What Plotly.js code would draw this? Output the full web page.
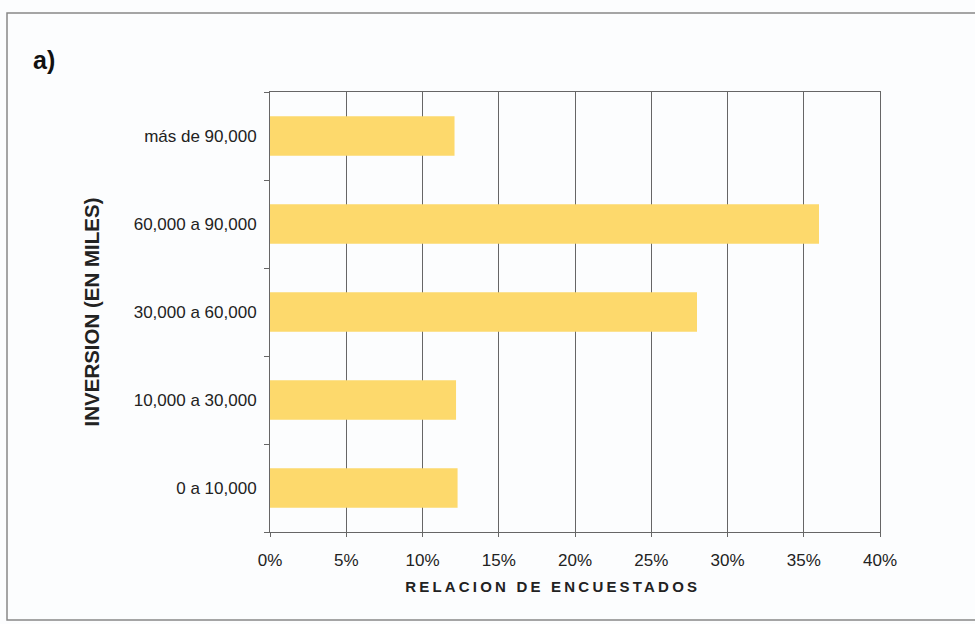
<!DOCTYPE html>
<html>
<head>
<meta charset="utf-8">
<script src="https://cdn.plot.ly/plotly-3.0.1.min.js"></script>
<style>
html,body{margin:0;padding:0;background:#fcfdfe;}
#chart{width:975px;height:624px;}
</style>
</head>
<body>
<div id="chart"></div>
<script>
// Data
const categories = ["0 a 10,000", "10,000 a 30,000", "30,000 a 60,000", "60,000 a 90,000", "más de 90,000"];
const shares = [0.123, 0.122, 0.280, 0.360, 0.121];
const xTickValues = [0, 0.05, 0.10, 0.15, 0.20, 0.25, 0.30, 0.35, 0.40];
const xTickLabels = ["0%", "5%", "10%", "15%", "20%", "25%", "30%", "35%", "40%"];
const panelLabel = "a)";
const xTitle = "RELACION DE ENCUESTADOS";
const yTitle = "INVERSION (EN MILES)";

const font = "Liberation Sans, Arial, sans-serif";

const trace = {
  type: "bar",
  orientation: "h",
  x: shares,
  y: categories,
  marker: {color: "#fdd96c", line: {width: 0}},
  hoverinfo: "skip"
};

const layout = {
  width: 975,
  height: 624,
  margin: {l: 270, r: 95, t: 92, b: 92},
  paper_bgcolor: "#fcfdfe",
  plot_bgcolor: "#fcfdfe",
  showlegend: false,
  bargap: 0.55,
  font: {family: font, color: "#222", size: 17},
  xaxis: {
    range: [0, 0.40],
    tickvals: xTickValues,
    ticktext: xTickLabels,
    showgrid: true,
    gridcolor: "#666",
    gridwidth: 1,
    showline: true,
    linecolor: "#666",
    linewidth: 1,
    mirror: true,
    ticks: "outside",
    ticklen: 4,
    tickcolor: "#666",
    zeroline: false,
    ticklabelstandoff: 9,
    tickfont: {family: font, size: 17, color: "#222"}
  },
  yaxis: {
    type: "category",
    tickson: "boundaries",
    showgrid: false,
    showline: true,
    linecolor: "#666",
    linewidth: 1,
    mirror: true,
    ticks: "outside",
    ticklen: 5,
    tickcolor: "#666",
    tickfont: {family: font, size: 17, color: "#222"},
    ticklabelstandoff: 9,
    title: {text: yTitle, font: {family: font, size: 20.5, color: "#222", weight: "bold"}, standoff: 28}
  },
  annotations: [{
    text: panelLabel,
    xref: "paper", yref: "paper",
    x: (31 - 270) / 610, y: (532 - 60) / 440,
    xanchor: "left", yanchor: "middle",
    showarrow: false,
    font: {family: "Liberation Sans Narrow, Liberation Sans, Arial, sans-serif", size: 25, color: "#111", weight: "bold"}
  }, {
    text: xTitle,
    xref: "paper", yref: "paper",
    x: (552 - 270) / 610, y: (532 - 586) / 440,
    xanchor: "center", yanchor: "middle",
    showarrow: false,
    font: {family: font, size: 15, color: "#222", weight: "bold"}
  }],
  shapes: [{
    type: "rect",
    xref: "paper", yref: "paper",
    x0: (7 - 270) / 610, x1: (990 - 270) / 610,
    y0: (532 - 620) / 440, y1: (532 - 13) / 440,
    line: {color: "#888", width: 1.5},
    fillcolor: "rgba(0,0,0,0)",
    layer: "below"
  }]
};

Plotly.newPlot("chart", [trace], layout, {staticPlot: true, displayModeBar: false}).then(function () {
  document.querySelectorAll(".annotation-text").forEach(function (t) {
    if (t.textContent === xTitle) t.style.letterSpacing = "3.2px";
  });
});
</script>
</body>
</html>
